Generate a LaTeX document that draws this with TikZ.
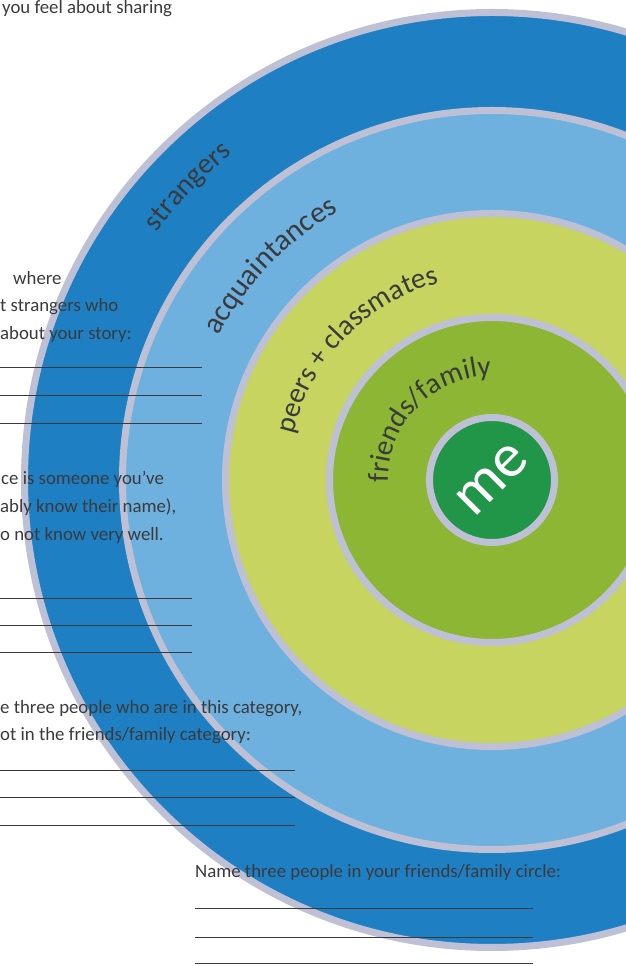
\documentclass[tikz,border=0pt]{standalone}
\usepackage{fontspec}
\setmainfont{Carlito}
\usepackage{tikz}
\usetikzlibrary{positioning,decorations.text}
\definecolor{strangerblue}{RGB}{30,128,195}
\definecolor{acqblue}{RGB}{110,176,222}
\definecolor{peergreen}{RGB}{199,212,96}
\definecolor{friendgreen}{RGB}{140,182,52}
\definecolor{megreen}{RGB}{34,150,72}
\definecolor{ringgrey}{RGB}{190,192,214}
\definecolor{inkgrey}{RGB}{58,58,60}
\tikzset{
  ring/.style={draw=ringgrey, line width=7pt},
  sheettext/.style={anchor=base west, inner sep=0pt, text=inkgrey, font=\fontsize{18.8}{22}\selectfont},
  writeline/.style={draw=inkgrey, line width=0.9pt},
  ringlabel/.style={decorate, decoration={text along path, text align=center, text color=inkgrey, text={#1}}},
}

\begin{document}
\begin{tikzpicture}[x=1pt, y=1pt]
  \useasboundingbox (0,0) rectangle (626,966);
  \clip (0,0) rectangle (626,966);
  \coordinate (centre) at (492,486);

  % the five circles, outside in
  \fill[strangerblue, ring] (centre) circle (467.5);
  \fill[acqblue, ring] (centre) circle (369.5);
  \fill[peergreen, ring] (centre) circle (266.5);
  \fill[friendgreen, ring] (centre) circle (162.5);
  \fill[megreen, ring] (centre) circle (62.5);

  \path[ringlabel={|\fontsize{29}{32}\selectfont|strangers}] ([shift={(172:417)}]centre) arc[start angle=172, end angle=100, radius=417];
  \path[ringlabel={|\fontsize{30}{32}\selectfont|acquaintances}] ([shift={(177:309)}]centre) arc[start angle=177, end angle=95, radius=309];
  \path[ringlabel={|\fontsize{29}{32}\selectfont|peers + classmates}] ([shift={(192:204)}]centre) arc[start angle=192, end angle=80, radius=204];
  \path[ringlabel={|\fontsize{29}{32}\selectfont|friends/family}] ([shift={(222:104)}]centre) arc[start angle=222, end angle=50, radius=104];
  \node[rotate=45, text=white, font=\fontsize{62}{64}\selectfont] (me) at (centre) {me};

  \node[sheettext] (share) at (2,952.5) {you feel about sharing};

  \node[sheettext] (where1) at (13,681.5) {where};
  \node[sheettext] (where2) at (0,654.5) {t strangers who};
  \node[sheettext] (where3) at (0,626.5) {about your story:};
  \foreach \y in {599,571,543}
    \draw[writeline] (0,\y) -- (202,\y);

  \node[sheettext] (acq1) at (1,481.5) {ce is someone you’ve};
  \node[sheettext] (acq2) at (0,453.5) {ably know their name),};
  \node[sheettext] (acq3) at (0,425.5) {o not know very well.};
  \foreach \y in {368,341,314}
    \draw[writeline] (0,\y) -- (192,\y);

  \node[sheettext] (peer1) at (0,252.5) {e three people who are in this category,};
  \node[sheettext] (peer2) at (0,225.5) {ot in the friends/family category:};
  \foreach \y in {196,169,141}
    \draw[writeline] (0,\y) -- (295,\y);

  \node[sheettext] (name) at (195,88.5) {Name three people in your friends/family circle:};
  \foreach \y in {58,29,3}
    \draw[writeline] (195,\y) -- (533,\y);
\end{tikzpicture}
\end{document}
